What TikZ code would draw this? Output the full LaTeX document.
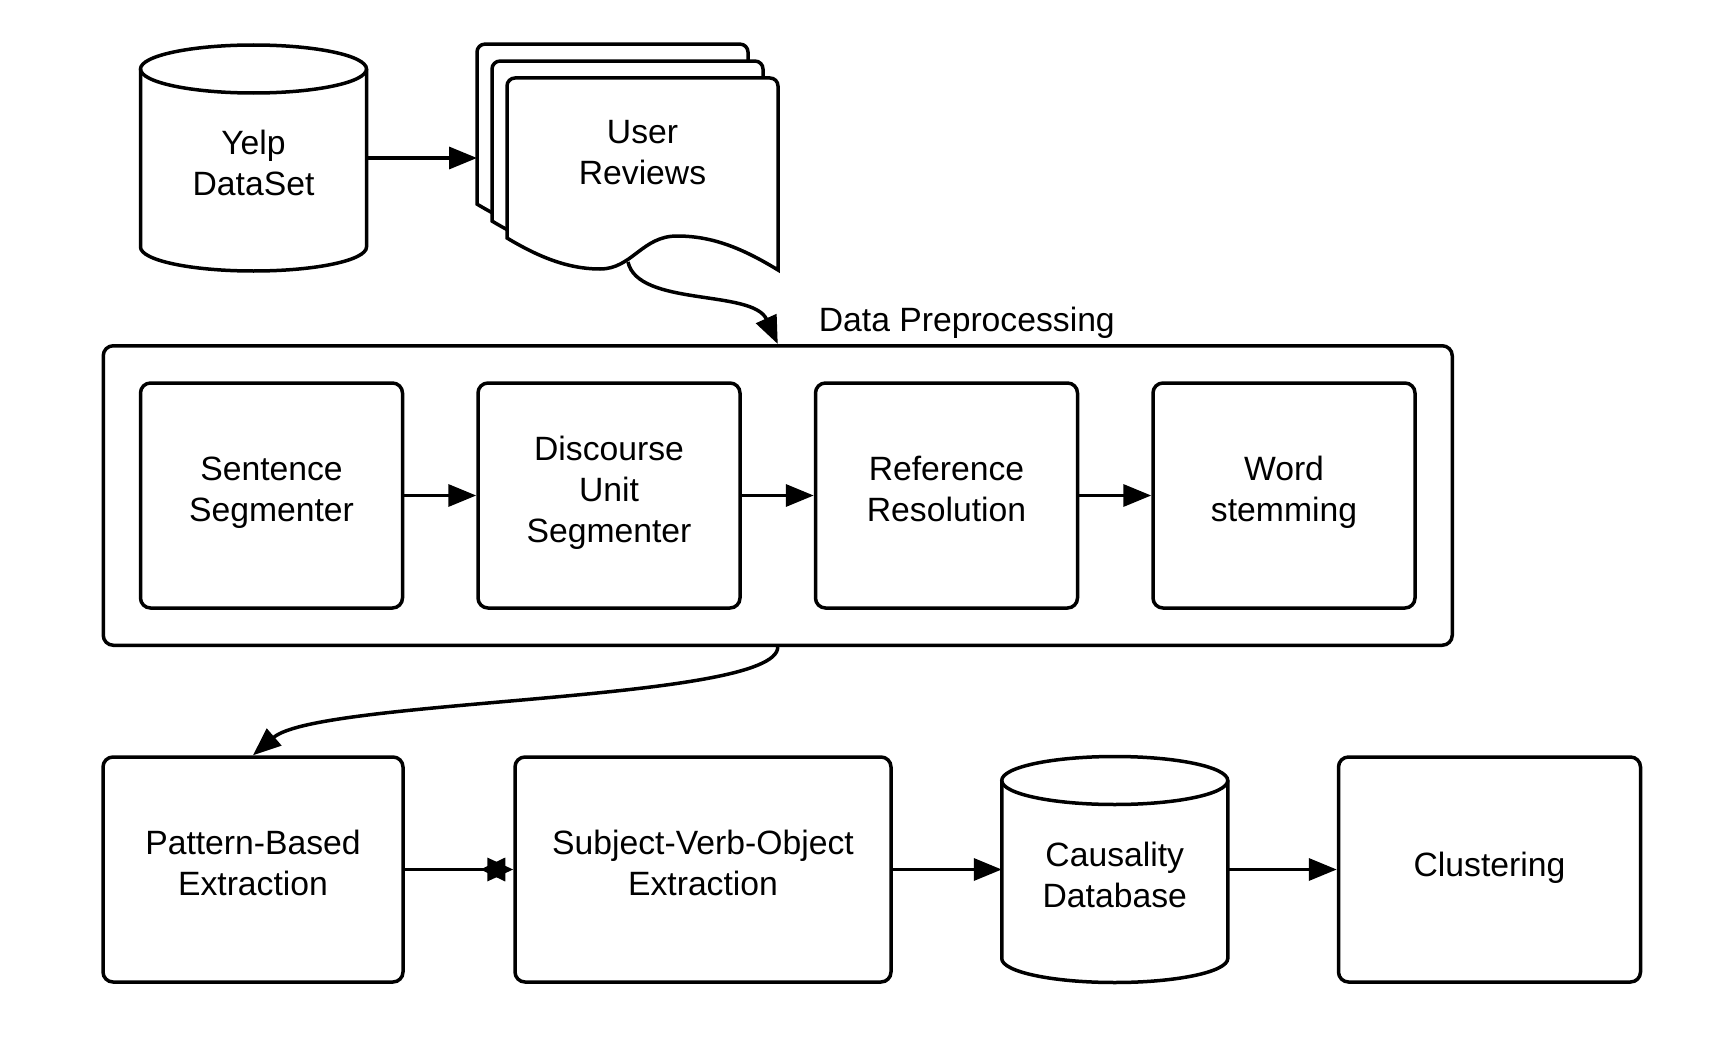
\documentclass[tikz,border=0pt]{standalone}
\usepackage{fontspec}
\setmainfont{Liberation Sans}
\usetikzlibrary{arrows.meta, positioning, fit, calc}

\begin{document}
\begin{tikzpicture}[
  x=1pt, y=-1pt,
  line width=3.5pt,
  font=\fontsize{33.7}{41}\selectfont,
  node distance=72pt,
  proc/.style={rectangle, draw, rounded corners=10pt, align=center, minimum width=262pt, minimum height=225pt,
    execute at begin node={\rule[-12.6pt]{0pt}{38.6pt}}, execute at end node={\rule[-12.6pt]{0pt}{38.6pt}}},
  dbbox/.style={rectangle, outer sep=0pt, minimum width=226pt, minimum height=226pt},
  doc/.style={draw, fill=white, rounded corners=8pt},
  arr/.style={-{Triangle[length=28pt, width=22pt]}}
]
\useasboundingbox (0,0) rectangle (1733,1041);

% input data
\node[dbbox, label={[align=center, yshift=-5pt]center:Yelp\\DataSet}] (yelp) at (253.5,158) {};
\foreach \d in {30,15,0} {
  \begin{scope}[shift={(507-\d,78-1.13*\d)}]
    \draw[doc] (0,160) -- (0,0) -- (271,0) [sharp corners] -- (271,192)
      .. controls (235,170) and (205,158) .. (170,158)
      .. controls (135,158) and (125,191) .. (93,191)
      .. controls (60,191) and (30,178) .. (0,160) -- cycle;
  \end{scope}
}
\node[align=center] (reviews) at (642.5,153) {User\\Reviews};
\coordinate (stack) at (477,158);
\coordinate (wave) at (628,262);

% preprocessing
\node[proc] (sent) at (271.5,495.5) {Sentence\\Segmenter};
\node[proc, right=of sent] (disc) {Discourse\\Unit\\Segmenter};
\node[proc, right=of disc] (ref) {Reference\\Resolution};
\node[proc, right=of ref] (stem) {Word\\stemming};
\node[draw, rounded corners=10pt, fit=(sent)(stem), inner sep=35.5pt] (prep) {};
\node[anchor=base west, xshift=36pt, yshift=13pt] (preplabel) at (prep.north) {Data Preprocessing};

% extraction
\node[proc, minimum width=300pt] (pattern) at (253,869.5) {Pattern-Based\\Extraction};
\node[proc, minimum width=376pt, right=108.5pt of pattern] (svo) {Subject-Verb-Object\\Extraction};
\node[dbbox, right=109pt of svo, label={[align=center, yshift=-5.5pt]center:Causality\\Database}] (caus) {};
\node[proc, minimum width=302pt, right=109pt of caus] (clust) {Clustering};

% cylinder outlines
\foreach \n in {yelp,caus} {
  \draw ($(\n.north west)+(0,24)$) -- ($(\n.south west)+(0,-24)$)
    arc[start angle=180, end angle=0, x radius=113, y radius=24]
    -- ($(\n.north east)+(0,24)$);
  \draw ($(\n.north)+(0,24)$) ellipse [x radius=113, y radius=24];
}

\draw[arr] (yelp) -- (stack);
\draw[arr] (wave) .. controls +(10,45) and +(-25,-55) .. (prep.north);
\draw[arr] (sent) -- (disc);
\draw[arr] (disc) -- (ref);
\draw[arr] (ref) -- (stem);
\draw[arr] (prep.south) .. controls +(0,55) and +(66,-57) .. (pattern.north);
\draw[-{Triangle[length=26pt, width=23pt]}] (pattern) -- (svo);
\draw[-{Triangle[length=25pt, width=23pt, reversed]}, shorten >=8pt] (pattern) -- (svo);
\draw[arr] (svo) -- (caus);
\draw[arr] (caus) -- (clust);
\end{tikzpicture}
\end{document}
